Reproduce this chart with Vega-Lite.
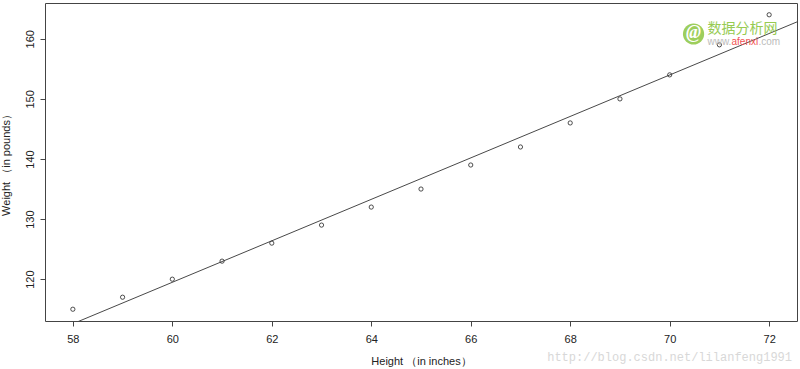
{
  "$schema": "https://vega.github.io/schema/vega-lite/v6.json",
  "width": 752,
  "height": 318,
  "autosize": {"type": "none"},
  "padding": {"left": 45, "top": 3, "right": 3, "bottom": 48},
  "background": "white",
  "config": {
    "view": {"stroke": "#444", "strokeWidth": 1},
    "font": "Liberation Sans",
    "axis": {
      "domain": false,
      "grid": false,
      "tickColor": "#444",
      "tickSize": 5,
      "labelColor": "#222",
      "titleColor": "#222",
      "labelFontSize": 11,
      "titleFontSize": 11,
      "titleFontWeight": "normal"
    }
  },
  "datasets": {
    "women": [
      {"height": 58, "weight": 115},
      {"height": 59, "weight": 117},
      {"height": 60, "weight": 120},
      {"height": 61, "weight": 123},
      {"height": 62, "weight": 126},
      {"height": 63, "weight": 129},
      {"height": 64, "weight": 132},
      {"height": 65, "weight": 135},
      {"height": 66, "weight": 139},
      {"height": 67, "weight": 142},
      {"height": 68, "weight": 146},
      {"height": 69, "weight": 150},
      {"height": 70, "weight": 154},
      {"height": 71, "weight": 159},
      {"height": 72, "weight": 164}
    ],
    "marks": [
      {"height": 72.46, "weight": 107.0, "label": "http://blog.csdn.net/lilanfeng1991", "kind": "csdn"},
      {"height": 70.48, "weight": 160.8, "label": "@", "kind": "logo"},
      {"height": 70.76, "weight": 161.6, "label": "数据分析网", "kind": "cn"},
      {"height": 70.76, "weight": 159.4, "label": "www.", "kind": "web1"},
      {"height": 70.76, "weight": 159.4, "label": "afenxi", "kind": "web2"},
      {"height": 70.76, "weight": 159.4, "label": ".com", "kind": "web3"}
    ]
  },
  "layer": [
    {
      "data": {"name": "women"},
      "mark": {"type": "point", "shape": "circle", "filled": false, "stroke": "#222", "strokeWidth": 0.8, "size": 18, "opacity": 1},
      "encoding": {
        "x": {"field": "height", "type": "quantitative", "scale": {"domain": [57.44, 72.56], "nice": false, "zero": false},
              "axis": {"values": [58, 60, 62, 64, 66, 68, 70, 72], "title": "Height （in inches）", "labelPadding": 7, "titlePadding": 11}},
        "y": {"field": "weight", "type": "quantitative", "scale": {"domain": [113.04, 165.96], "nice": false, "zero": false},
              "axis": {"values": [120, 130, 140, 150, 160], "title": "Weight （in pounds）", "labelAngle": -90, "labelAlign": "center", "labelBaseline": "bottom", "labelPadding": 5, "titlePadding": 13}}
      }
    },
    {
      "data": {"name": "women"},
      "transform": [{"regression": "weight", "on": "height", "extent": [57.44, 72.56]}],
      "mark": {"type": "line", "color": "#333", "strokeWidth": 0.9, "clip": true},
      "encoding": {
        "x": {"field": "height", "type": "quantitative"},
        "y": {"field": "weight", "type": "quantitative"}
      }
    },
    {
      "data": {"name": "marks"},
      "transform": [{"filter": "datum.kind === 'logo'"}],
      "mark": {"type": "point", "shape": "circle", "filled": true, "color": "#8cc63f", "opacity": 0.85, "size": 450},
      "encoding": {
        "x": {"field": "height", "type": "quantitative"},
        "y": {"field": "weight", "type": "quantitative"}
      }
    },
    {
      "data": {"name": "marks"},
      "transform": [{"filter": "datum.kind === 'logo'"}],
      "mark": {"type": "text", "color": "white", "fontSize": 18, "fontWeight": "bold", "font": "Liberation Serif", "fontStyle": "italic", "baseline": "middle", "dy": -1},
      "encoding": {
        "x": {"field": "height", "type": "quantitative"},
        "y": {"field": "weight", "type": "quantitative"},
        "text": {"field": "label"}
      }
    },
    {
      "data": {"name": "marks"},
      "transform": [{"filter": "datum.kind === 'cn'"}],
      "mark": {"type": "text", "align": "left", "baseline": "middle", "color": "#8cc63f", "opacity": 0.9, "fontSize": 14, "font": "Noto Sans CJK SC"},
      "encoding": {
        "x": {"field": "height", "type": "quantitative"},
        "y": {"field": "weight", "type": "quantitative"},
        "text": {"field": "label"}
      }
    },
    {
      "data": {"name": "marks"},
      "transform": [{"filter": "datum.kind === 'web1'"}],
      "mark": {"type": "text", "align": "left", "baseline": "middle", "color": "#bbb", "fontSize": 10, "font": "Liberation Sans"},
      "encoding": {
        "x": {"field": "height", "type": "quantitative"},
        "y": {"field": "weight", "type": "quantitative"},
        "text": {"field": "label"}
      }
    },
    {
      "data": {"name": "marks"},
      "transform": [{"filter": "datum.kind === 'web2'"}],
      "mark": {"type": "text", "align": "left", "baseline": "middle", "color": "#f05050", "fontSize": 10, "font": "Liberation Sans", "dx": 24},
      "encoding": {
        "x": {"field": "height", "type": "quantitative"},
        "y": {"field": "weight", "type": "quantitative"},
        "text": {"field": "label"}
      }
    },
    {
      "data": {"name": "marks"},
      "transform": [{"filter": "datum.kind === 'web3'"}],
      "mark": {"type": "text", "align": "left", "baseline": "middle", "color": "#bbb", "fontSize": 10, "font": "Liberation Sans", "dx": 51},
      "encoding": {
        "x": {"field": "height", "type": "quantitative"},
        "y": {"field": "weight", "type": "quantitative"},
        "text": {"field": "label"}
      }
    },
    {
      "data": {"name": "marks"},
      "transform": [{"filter": "datum.kind === 'csdn'"}],
      "mark": {"type": "text", "align": "right", "baseline": "middle", "color": "#d8d8d8", "fontSize": 12, "font": "Liberation Mono"},
      "encoding": {
        "x": {"field": "height", "type": "quantitative"},
        "y": {"field": "weight", "type": "quantitative"},
        "text": {"field": "label"}
      }
    }
  ]
}
